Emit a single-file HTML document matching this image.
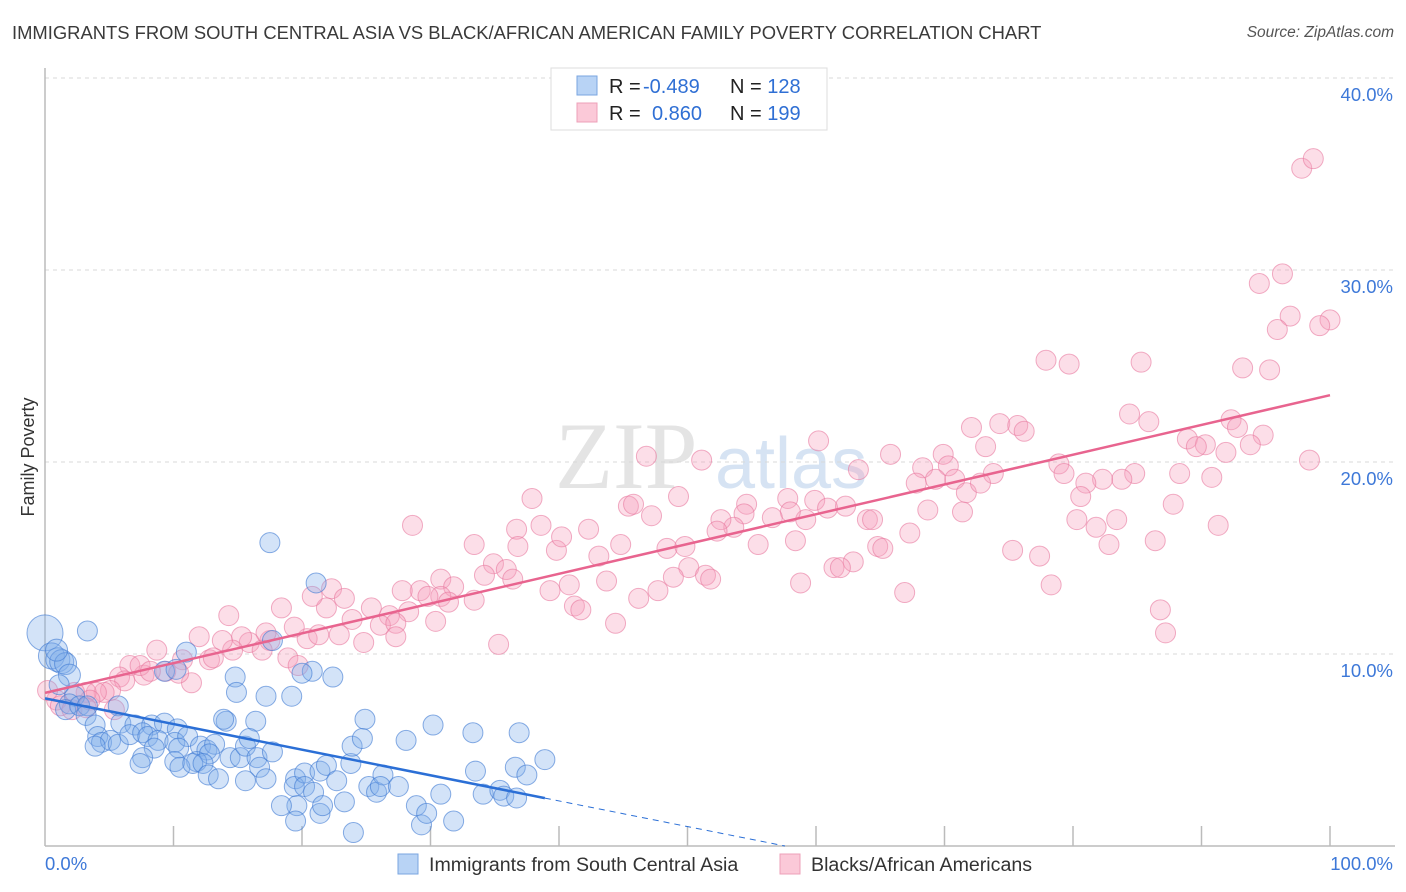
<!DOCTYPE html>
<html><head><meta charset="utf-8">
<style>
body{margin:0;background:#fff;font-family:"Liberation Sans",sans-serif;}
#wrap{position:relative;width:1406px;height:892px;overflow:hidden;}
.title{position:absolute;left:12px;top:22px;font-size:18.4px;color:#3a3a3a;}
.source{position:absolute;right:12px;top:24px;font-size:15.5px;color:#555;font-style:italic}
</style></head><body>
<div id="wrap">
<div class="title">IMMIGRANTS FROM SOUTH CENTRAL ASIA VS BLACK/AFRICAN AMERICAN FAMILY POVERTY CORRELATION CHART</div>
<div class="source">Source: ZipAtlas.com</div>
<svg id="svg" width="1406" height="892" style="position:absolute;left:0;top:0"></svg>
</div>
<script>
const yTicks=[10,20,30,40];
const yTickLabels=["10.0%","20.0%","30.0%","40.0%"];
const xTicks=[0,10,20,30,40,50,60,70,80,90,100];
const pinkX=[97.8,98.7,96.3,94.5,96.9,100,99.2,95.9,93.2,95.3,77.9,79.7,85.3,84.4,85.9,92.3,92.8,94.8,88.9,90.3,89.6,91.9,93.8,98.4,90.8,88.3,84.8,83.8,82.3,81.0,80.6,87.8,83.4,80.3,81.8,91.3,82.8,86.4,75.3,77.4,78.3,86.8,87.2,72.1,74.3,75.7,76.2,73.2,78.9,79.3,69.9,68.3,70.3,67.8,69.3,70.8,71.7,73.8,72.8,71.4,68.7,67.3,65.8,63.3,60.2,59.9,60.9,57.8,62.3,64.0,64.4,59.2,58.0,56.6,54.6,54.4,53.6,52.6,52.3,55.5,58.4,64.8,65.2,66.9,62.9,61.4,61.9,58.8,51.1,46.8,49.3,45.4,45.8,47.2,37.9,38.6,39.8,40.2,42.3,43.1,44.8,48.4,49.8,50.1,51.4,51.8,48.9,47.7,46.2,43.7,40.8,39.3,41.2,41.7,44.4,36.7,36.8,34.9,35.9,36.4,34.2,33.4,35.3,30.8,31.8,30.8,29.2,31.4,33.4,29.8,27.8,28.6,28.3,26.8,26.1,25.4,27.3,27.3,30.4,23.9,22.3,23.3,21.9,20.8,20.4,21.3,22.9,24.8,18.4,19.4,17.5,17.2,14.3,15.9,15.3,14.6,13.8,16.9,12.0,12.8,13.1,10.7,11.4,8.7,9.4,7.7,6.6,7.4,5.8,6.2,10.4,8.2,5.1,4.6,4.0,3.2,3.5,2.3,0.9,0.2,1.2,2.1,3.2,5.4,18.9,19.7];
const pinkY=[35.3,35.8,29.8,29.3,27.6,27.4,27.1,26.9,24.9,24.8,25.3,25.1,25.2,22.5,22.1,22.2,21.8,21.4,21.2,20.9,20.8,20.5,20.9,20.1,19.2,19.4,19.4,19.1,19.1,18.9,18.2,17.8,17.0,17.0,16.6,16.7,15.7,15.9,15.4,15.1,13.6,12.3,11.1,21.8,22.0,21.9,21.6,20.8,19.9,19.4,20.4,19.7,19.8,18.9,19.1,19.1,18.4,19.4,18.9,17.4,17.5,16.3,20.4,19.6,21.1,18.0,17.6,18.1,17.7,17.0,17.0,17.0,17.4,17.1,17.8,17.3,16.6,17.0,16.4,15.7,15.9,15.6,15.5,13.2,14.8,14.5,14.5,13.7,20.1,20.3,18.2,17.7,17.8,17.2,18.1,16.7,15.4,16.1,16.5,15.1,15.7,15.5,15.6,14.5,14.1,13.9,14.0,13.3,12.9,13.8,13.6,13.3,12.5,12.3,11.6,16.5,15.6,14.7,14.4,13.9,14.1,15.7,10.5,13.9,13.5,13.0,13.3,12.7,12.8,13.0,13.3,16.7,12.2,12.0,11.5,12.4,11.6,10.9,11.7,11.8,13.4,12.9,12.4,13.0,10.8,11.0,11.0,10.6,12.4,11.4,10.7,11.1,12.0,10.6,10.9,10.2,10.7,10.2,10.9,9.7,9.8,9.7,8.5,10.2,9.1,8.9,9.4,9.4,8.8,8.6,9.0,9.1,8.1,8.0,8.0,8.0,7.6,8.0,7.6,8.1,7.3,7.1,7.2,7.1,9.8,9.4];
const blueX=[0,0.5,1.0,1.3,1.6,0.9,1.9,1.1,2.3,1.9,1.6,2.7,3.3,3.2,3.9,5.7,3.3,11.0,9.3,10.2,17.5,21.1,19.2,14.8,14.9,22.4,20.8,17.2,20.0,17.7,24.9,16.4,14.1,5.9,7.0,8.3,9.3,10.3,4.1,4.4,5.1,5.7,3.9,6.6,7.6,8.0,8.8,10.1,11.1,12.1,12.6,13.2,12.8,11.8,10.4,8.5,7.6,7.4,10.1,10.5,11.5,12.3,12.7,13.5,14.4,15.2,15.6,15.9,16.5,16.7,17.2,15.6,17.7,19.5,19.4,20.2,20.2,21.4,21.9,20.9,19.6,18.4,19.5,21.4,21.6,22.7,23.3,23.8,23.9,24.7,24.0,25.2,25.8,26.3,26.1,27.5,28.1,28.9,29.3,29.7,30.8,31.8,30.2,33.3,33.5,34.1,35.4,35.7,36.6,37.5,36.7,36.9,38.9,13.9];
const blueY=[11.1,9.9,9.7,9.6,9.5,10.2,8.9,8.4,7.8,7.4,7.1,7.3,7.3,6.8,6.3,7.3,11.2,10.1,9.1,9.2,15.8,13.7,7.8,8.8,8.0,8.8,9.1,7.8,9.0,10.7,6.6,6.5,6.5,6.4,6.3,6.3,6.4,6.1,5.7,5.4,5.5,5.3,5.2,5.8,5.9,5.7,5.5,5.4,5.7,5.2,5.0,5.3,4.8,4.4,5.1,5.1,4.6,4.3,4.4,4.1,4.3,4.3,3.7,3.5,4.6,4.6,5.2,5.6,4.6,4.1,3.5,3.4,4.9,3.5,3.1,3.8,3.1,3.9,4.2,2.8,2.1,2.1,1.3,1.7,2.1,3.4,2.3,4.3,5.2,5.6,0.7,3.1,2.8,3.7,3.1,3.1,5.5,2.1,1.1,1.7,2.7,1.3,6.3,5.9,3.9,2.7,2.9,2.6,4.1,3.7,2.5,5.9,4.5,6.6];
const blueR=[18,13,12,12,11,11,11,10,10,10,10,10,10,10,10,10];

const NS='http://www.w3.org/2000/svg';
const svg=document.getElementById('svg');
const X0=45,X1=1330,Y0=846,YPX=19.2;
function xs(v){return X0+(X1-X0)*v/100;}
function ys(v){return Y0-v*YPX;}
function mk(t,a,p){const e=document.createElementNS(NS,t);for(const k in a)e.setAttribute(k,a[k]);(p||svg).appendChild(e);return e;}

const wm=mk('text',{x:555,y:488,'font-family':'Liberation Serif, serif','font-size':95,fill:'#e4e4e4'});
wm.textContent='ZIP';


const wm2=mk('text',{x:715,y:488,'font-family':'Liberation Sans, sans-serif','font-size':72,fill:'#d6e3f3'});
wm2.textContent='atlas';



yTicks.forEach((t,i)=>{
  const g=mk('line',{x1:X0,x2:1395,y1:ys(t),y2:ys(t),stroke:'#d8d8d8','stroke-dasharray':'4,4'});
  
  
  const l=mk('text',{x:1393,y:ys(t)+23,'text-anchor':'end','font-size':18.5,fill:'#3d78d8'});
  l.textContent=yTickLabels[i];
  
  
});
const ax=mk('line',{x1:X0,x2:1395,y1:Y0,y2:Y0,stroke:'#bbb','stroke-width':1.5});


const ay=mk('line',{x1:X0,x2:X0,y1:68,y2:Y0,stroke:'#bbb','stroke-width':1.5});


xTicks.forEach(t=>{
  if(t===0)return;
  const k=mk('line',{x1:xs(t),x2:xs(t),y1:826,y2:Y0,stroke:'#bbb','stroke-width':1.5});
  
  
});
const xl0=mk('text',{x:45,y:870,'font-size':18.5,fill:'#3d78d8'});xl0.textContent='0.0%';


const xl1=mk('text',{x:1393,y:870,'text-anchor':'end','font-size':18.5,fill:'#3d78d8'});xl1.textContent='100.0%';


const yt=mk('text',{x:34,y:457,'text-anchor':'middle','font-size':18,fill:'#333',transform:'rotate(-90 34 457)'});yt.textContent='Family Poverty';



pinkX.forEach((x,i)=>{
  const c=mk('circle',{cx:xs(x),cy:ys(pinkY[i]),r:10,fill:'rgba(246,160,190,0.35)',stroke:'rgba(232,120,158,0.6)','stroke-width':1});
  
  
});
blueX.forEach((x,i)=>{
  const c=mk('circle',{cx:xs(x),cy:ys(blueY[i]),r:blueR[i]||10,fill:'rgba(130,175,235,0.35)',stroke:'rgba(60,120,210,0.6)','stroke-width':1});
  
  
});

function fit(X,Y){const n=X.length;let mx=0,my=0;for(let i=0;i<n;i++){mx+=X[i];my+=Y[i];}mx/=n;my/=n;let sxy=0,sxx=0;for(let i=0;i<n;i++){sxy+=(X[i]-mx)*(Y[i]-my);sxx+=(X[i]-mx)**2;}const b=sxy/sxx;return [my-b*mx,b];}
const pf=fit(pinkX,pinkY);
const pl=mk('line',{x1:xs(0),y1:ys(pf[0]),x2:xs(100),y2:ys(pf[0]+pf[1]*100),stroke:'#e8648f','stroke-width':2.5});


const bf=fit(blueX,blueY);
const bmax=Math.max(...blueX);
const bl=mk('line',{x1:xs(0),y1:ys(bf[0]),x2:xs(bmax),y2:ys(bf[0]+bf[1]*bmax),stroke:'#2b6fd6','stroke-width':2.5});


const xz=Math.min(100,-bf[0]/bf[1]);
const bd=mk('line',{x1:xs(bmax),y1:ys(bf[0]+bf[1]*bmax),x2:xs(xz),y2:ys(bf[0]+bf[1]*xz),stroke:'#2b6fd6','stroke-width':1,'stroke-dasharray':'6,5'});



const lg=mk('g',{});


mk('rect',{x:551,y:68,width:276,height:62,fill:'#fff',stroke:'#ddd'},lg);
mk('rect',{x:577,y:76,width:20,height:19,fill:'#b8d3f5',stroke:'#7aa6e0'},lg);
mk('rect',{x:577,y:103,width:20,height:19,fill:'#fbc9d8',stroke:'#eea0b8'},lg);
[[93,'-0.489','128',643],[120,'0.860','199',652]].forEach(r=>{
  const t=mk('text',{x:609,y:r[0],'font-size':20,fill:'#222'},lg);
  t.innerHTML='R = <tspan fill="#2f6fd4" x="'+r[3]+'">'+r[1]+'</tspan><tspan x="730" fill="#222">N = </tspan><tspan fill="#2f6fd4">'+r[2]+'</tspan>';
});

const bl1=mk('rect',{x:398,y:854,width:20,height:20,fill:'#b8d3f5',stroke:'#7aa6e0'});


const bt1=mk('text',{x:429,y:871,'font-size':19.6,fill:'#333'});bt1.textContent='Immigrants from South Central Asia';


const bl2=mk('rect',{x:780,y:854,width:20,height:20,fill:'#fbc9d8',stroke:'#eea0b8'});


const bt2=mk('text',{x:811,y:871,'font-size':19.6,fill:'#333'});bt2.textContent='Blacks/African Americans';


</script>
</body></html>
